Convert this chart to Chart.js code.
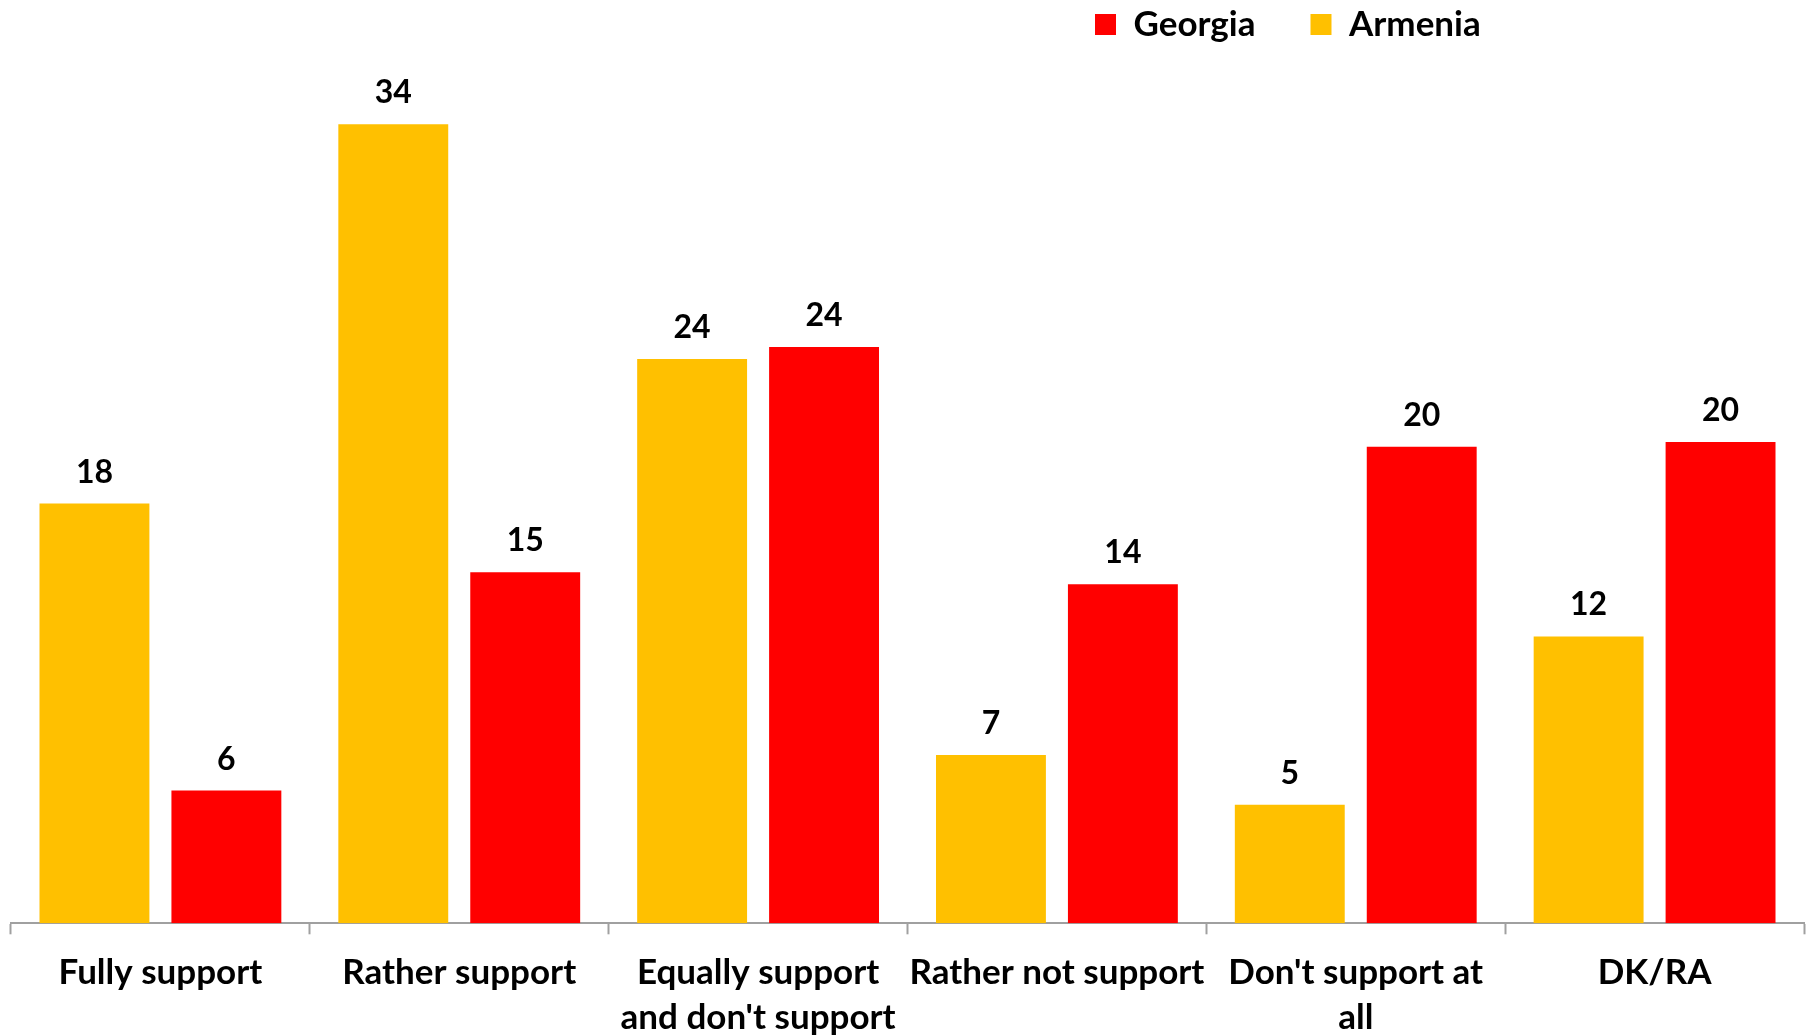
<!DOCTYPE html>
<html>
<head>
<meta charset="utf-8">
<title>Georgia / Armenia support</title>
<script src="https://cdn.jsdelivr.net/npm/chart.js@4"></script>
<style>
  html, body { margin: 0; padding: 0; background: #fff; }
  #wrap { width: 1810px; height: 1036px; }
</style>
</head>
<body>
<div id="wrap"><canvas id="myChart" width="1810" height="1036"></canvas></div>
<script>
// Data
const categories = [
  "Fully support",
  "Rather support",
  ["Equally support", "and don't support"],
  "Rather not support",
  ["Don't support at", "all"],
  "DK/RA"
];
const seriesNames = ["Armenia", "Georgia"];
const armeniaValues = [17.7, 33.7, 23.8, 7.1, 5.0, 12.1];
const georgiaValues = [5.6, 14.8, 24.3, 14.3, 20.1, 20.3];

// Styling
const YELLOW = "#FFC000";
const RED = "#FF0000";
const FONT = "Lato, 'Open Sans', sans-serif";
const LEGEND_X = 1095; // left edge of the first legend box
const LEGEND_TOP = -48;

// draws the rounded value above each bar
const valueLabels = {
  id: "valueLabels",
  afterDatasetsDraw(chart) {
    const ctx = chart.ctx;
    ctx.save();
    ctx.font = "bold 32px " + FONT;
    ctx.fillStyle = "#000";
    ctx.textAlign = "center";
    ctx.textBaseline = "alphabetic";
    chart.data.datasets.forEach((ds, i) => {
      chart.getDatasetMeta(i).data.forEach((bar, j) => {
        ctx.fillText(Math.round(ds.data[j]), bar.x, bar.y - 21);
      });
    });
    ctx.restore();
  }
};

// legend sits right of centre and near the top edge in the original
const legendShift = {
  id: "legendShift",
  afterLayout(chart) {
    const lg = chart.legend;
    const pad = lg.options.labels.padding;
    lg.left = LEGEND_X - pad;
    lg.right = lg.left + lg.width;
    lg.top = LEGEND_TOP;
    lg.bottom = lg.top + lg.height;
  }
};

let ctx = document.getElementById("myChart").getContext("2d");
let myChart = new Chart(ctx, {
  type: "bar",
  data: {
    labels: categories,
    datasets: [
      { label: seriesNames[0], data: armeniaValues, backgroundColor: YELLOW },
      { label: seriesNames[1], data: georgiaValues, backgroundColor: RED }
    ]
  },
  options: {
    responsive: false,
    animation: false,
    layout: { padding: { left: 11, right: 6, top: 0, bottom: 0 } },
    datasets: {
      bar: { categoryPercentage: 0.883, barPercentage: 0.833 }
    },
    plugins: {
      tooltip: { enabled: false },
      legend: {
        position: "top",
        align: "start",
        reverse: true,
        labels: {
          boxWidth: 21,
          boxHeight: 21,
          padding: 55,
          color: "#000",
          font: { family: FONT, size: 35, weight: "bold" }
        }
      }
    },
    scales: {
      x: {
        afterFit(scale) {
          scale.height -= 20; // labels run right down to the bottom edge
        },
        grid: {
          display: true,
          drawOnChartArea: false,
          drawTicks: true,
          tickLength: 11,
          tickWidth: 2,
          tickColor: "#A0A0A0",
          offset: true
        },
        border: { display: true, color: "#A0A0A0", width: 2 },
        ticks: {
          color: "#000",
          padding: 15,
          maxRotation: 0,
          autoSkip: false,
          font: { family: FONT, size: 35, weight: "bold", lineHeight: 1.31 }
        }
      },
      y: {
        display: false,
        beginAtZero: true,
        min: 0,
        max: 34.72
      }
    }
  },
  plugins: [valueLabels, legendShift]
});
</script>
</body>
</html>
